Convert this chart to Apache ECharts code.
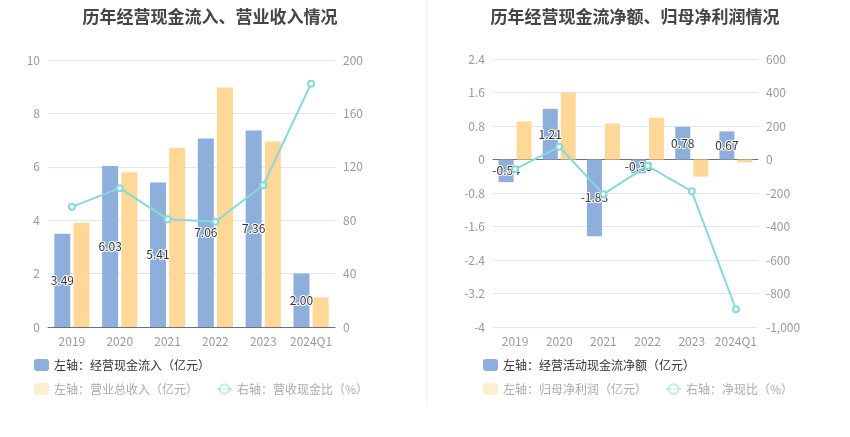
<!DOCTYPE html>
<html>
<head>
<meta charset="utf-8">
<script src="https://cdn.jsdelivr.net/npm/echarts@6/dist/echarts.min.js"></script>
<style>
  html, body { margin: 0; padding: 0; background: #fff; }
  #chart { width: 850px; height: 437px; }
</style>
</head>
<body>
<div id="chart"></div>
<script>
// Categories shared by both panels
const years = ["2019", "2020", "2021", "2022", "2023", "2024Q1"];

// Left panel: cash inflow, revenue (亿元) and ratio (%)
const cashInflow = [3.49, 6.03, 5.41, 7.06, 7.36, 2.00];
const revenue = [3.90, 5.80, 6.71, 8.97, 6.95, 1.11];
const cashRatio = [90, 104, 80.8, 78.8, 106.2, 182.3];

// Right panel: net operating cash flow, net profit (亿元) and ratio (%)
const netCashFlow = [-0.54, 1.21, -1.83, -0.33, 0.78, 0.67];
const netProfit = [0.91, 1.60, 0.86, 1.00, -0.41, -0.07];
const netRatio = [-58, 76, -207, -38, -190, -894];

const blue = "#8eaedb";
const yellow = "#ffd897";
const cyan = "#86d8da";
const font = "Noto Sans CJK SC";

const chart = echarts.init(document.getElementById("chart"));

// label shown in the middle of the blue bars
const barLabel = {
    show: true,
    position: "inside",
    color: "#333",
    fontSize: 12,
    fontFamily: font,
    textBorderColor: "#fff",
    textBorderWidth: 2,
    formatter: p => p.value.toFixed(2)
};

const axisLabel = { color: "#999", fontSize: 12, fontFamily: font };
const splitLine = { lineStyle: { color: "#e0e6f1" } };

function legendPair(left, names) {
    // first row: the blue series, second row: faded yellow + line
    return [
        {
            left: left, top: 354, itemWidth: 15, itemHeight: 12, itemGap: 20,
            icon: "roundRect",
            textStyle: { color: "#333", fontSize: 12, fontFamily: font },
            data: [{ name: names[0] }]
        },
        {
            left: left, top: 378, itemWidth: 15, itemHeight: 12, itemGap: 18,
            textStyle: { color: "#aaa", fontSize: 12, fontFamily: font },
            data: [
                { name: names[1], icon: "roundRect", itemStyle: { opacity: 0.45 } },
                { name: names[2], itemStyle: { opacity: 0.5 }, lineStyle: { opacity: 0.5 } }
            ]
        }
    ];
}

const leftNames = ["左轴：经营现金流入（亿元）", "左轴：营业总收入（亿元）", "右轴：营收现金比（%）"];
const rightNames = ["左轴：经营活动现金流净额（亿元）", "左轴：归母净利润（亿元）", "右轴：净现比（%）"];

const options = {
    animation: false,
    title: [
        {
            text: "历年经营现金流入、营业收入情况", left: 205, top: 3, textAlign: "center",
            textStyle: { fontSize: 17, fontWeight: "bold", color: "#444", fontFamily: font }
        },
        {
            text: "历年经营现金流净额、归母净利润情况", left: 630, top: 3, textAlign: "center",
            textStyle: { fontSize: 17, fontWeight: "bold", color: "#444", fontFamily: font }
        }
    ],
    legend: [...legendPair(29, leftNames), ...legendPair(478, rightNames)],
    graphic: [{
        type: "line",
        shape: { x1: 427, y1: 0, x2: 427, y2: 405 },
        style: { stroke: "#eee", lineWidth: 1 }
    }],
    grid: [
        { left: 48, top: 60, width: 287, height: 267 },
        { left: 493, top: 59, width: 265, height: 268 }
    ],
    xAxis: [
        {
            type: "category", gridIndex: 0, data: years,
            axisTick: { alignWithLabel: true }, axisLine: { lineStyle: { color: "#6e7079" } },
            axisLabel: { ...axisLabel, interval: 0 }
        },
        {
            type: "category", gridIndex: 1, data: years,
            axisLine: { show: false, onZero: false }, axisTick: { show: false },
            axisLabel: { ...axisLabel, interval: 0 }
        },
        {
            // zero line with ticks for the right panel
            type: "category", gridIndex: 1, data: years,
            axisLine: { onZero: true, lineStyle: { color: "#6e7079" } },
            axisTick: { alignWithLabel: true, interval: 0 }, axisLabel: { show: false }
        }
    ],
    yAxis: [
        { type: "value", gridIndex: 0, min: 0, max: 10, interval: 2, axisLabel: axisLabel, splitLine: splitLine },
        { type: "value", gridIndex: 0, min: 0, max: 200, interval: 40, axisLabel: axisLabel, splitLine: { show: false } },
        { type: "value", gridIndex: 1, min: -4, max: 2.4, interval: 0.8, axisLabel: axisLabel, splitLine: splitLine },
        { type: "value", gridIndex: 1, min: -1000, max: 600, interval: 200, axisLabel: axisLabel, splitLine: { show: false } }
    ],
    series: [
        {
            name: leftNames[0], type: "bar", xAxisIndex: 0, yAxisIndex: 0, data: cashInflow,
            barWidth: 16, barGap: "20%", itemStyle: { color: blue }, label: barLabel
        },
        {
            name: leftNames[1], type: "bar", xAxisIndex: 0, yAxisIndex: 0, data: revenue,
            barWidth: 16, barGap: "20%", itemStyle: { color: yellow }
        },
        {
            name: leftNames[2], type: "line", xAxisIndex: 0, yAxisIndex: 1, data: cashRatio,
            symbol: "emptyCircle", symbolSize: 6, z: 5,
            lineStyle: { color: cyan, width: 2 }, itemStyle: { color: cyan }
        },
        {
            name: rightNames[0], type: "bar", xAxisIndex: 1, yAxisIndex: 2, data: netCashFlow,
            barWidth: 15, barGap: "20%", itemStyle: { color: blue }, label: barLabel
        },
        {
            name: rightNames[1], type: "bar", xAxisIndex: 1, yAxisIndex: 2, data: netProfit,
            barWidth: 15, barGap: "20%", itemStyle: { color: yellow }
        },
        {
            name: rightNames[2], type: "line", xAxisIndex: 1, yAxisIndex: 3, data: netRatio,
            symbol: "emptyCircle", symbolSize: 6, z: 5,
            lineStyle: { color: cyan, width: 2 }, itemStyle: { color: cyan }
        }
    ]
};

chart.setOption(options);
</script>
</body>
</html>
